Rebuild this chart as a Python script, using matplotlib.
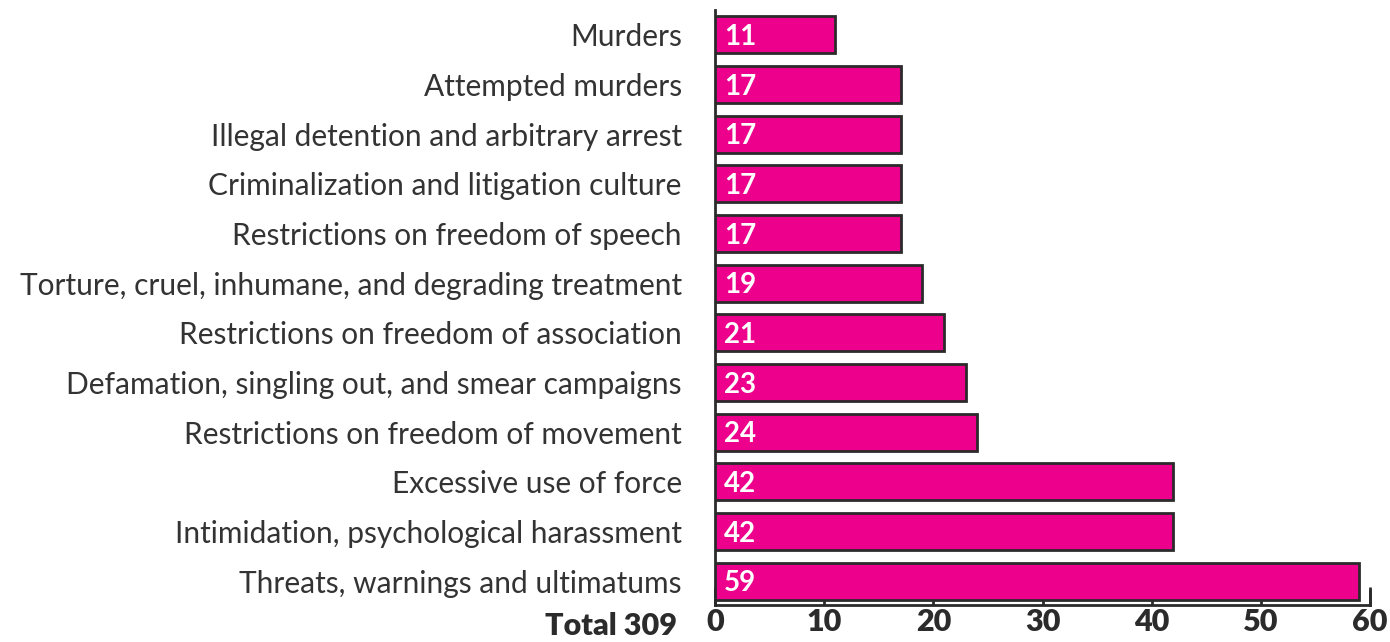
import matplotlib.pyplot as plt

# categories top to bottom
categorias = [
    'Murders',
    'Attempted murders',
    'Illegal detention and arbitrary arrest',
    'Criminalization and litigation culture',
    'Restrictions on freedom of speech',
    'Torture, cruel, inhumane, and degrading treatment',
    'Restrictions on freedom of association',
    'Defamation, singling out, and smear campaigns',
    'Restrictions on freedom of movement',
    'Excessive use of force',
    'Intimidation, psychological harassment',
    'Threats, warnings and ultimatums',
]
valores = [11, 17, 17, 17, 17, 19, 21, 23, 24, 42, 42, 59]
xticks = [0, 10, 20, 30, 40, 50, 60]
total = 'Total 309'

rosa = '#EC008C'
escuro = '#2b2b2b'

plt.rcParams['font.family'] = ['Lato', 'DejaVu Sans']

fig = plt.figure(figsize=(13.9, 6.42), dpi=100)
ax = fig.add_axes([0.5144, 0.0576, 0.4712, 0.9268])

y = list(range(len(categorias)))
ax.barh(y, valores, height=0.75, color=rosa, edgecolor=escuro, linewidth=2, zorder=3)

for i, v in enumerate(valores):
    ax.text(0.8, i + 0.04, str(v), color='white', fontsize=20, fontweight='bold',
            va='center', ha='left', zorder=4)

ax.set_ylim(11.48, -0.5)
ax.set_xlim(0, 60)
ax.set_yticks(y)
ax.set_yticklabels(categorias, fontsize=21.5, color='#333333')
ax.tick_params(axis='y', length=0, pad=24)
ax.set_xticks(xticks)
ax.set_xticklabels([str(t) for t in xticks], fontsize=22, fontweight='heavy', color=escuro)
ax.tick_params(axis='x', direction='in', length=13, width=2, color=escuro, pad=2)

ax.spines['top'].set_visible(False)
ax.spines['right'].set_bounds(11.48, 11.2)
for s in ['left', 'bottom', 'right']:
    ax.spines[s].set_linewidth(2)
    ax.spines[s].set_color(escuro)

ax.text(-3.5, -0.036, total, transform=ax.get_xaxis_transform(), fontsize=22,
        fontweight='heavy', color=escuro, ha='right', va='center')

fig.savefig('out.png', dpi=100)
